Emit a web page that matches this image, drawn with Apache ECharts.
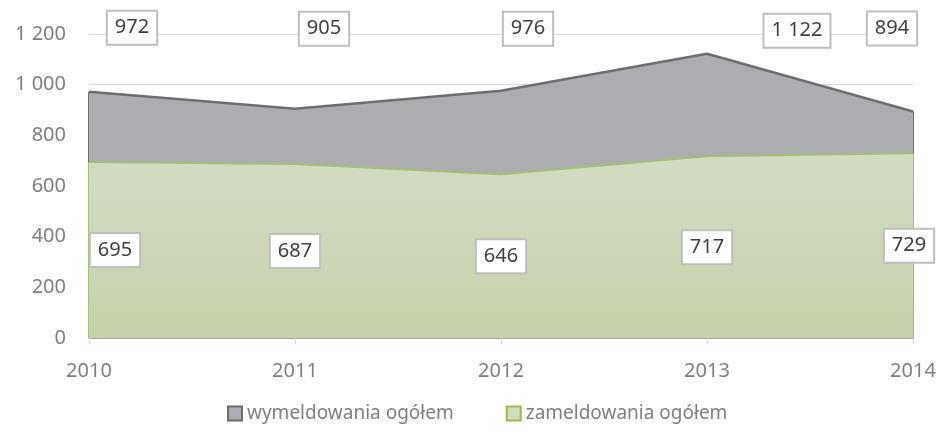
<!DOCTYPE html>
<html>
<head>
<meta charset="utf-8">
<script src="https://cdn.jsdelivr.net/npm/echarts@6/dist/echarts.min.js"></script>
<style>
html,body{margin:0;padding:0;background:#fff;}
#chart{width:940px;height:432px;}
</style>
</head>
<body>
<div id="chart"></div>
<script>
// ---- data ----
const years = ['2010', '2011', '2012', '2013', '2014'];
const wymeldowania = [972, 905, 976, 1122, 894];
const zameldowania = [695, 687, 646, 717, 729];
const seriesNames = ['wymeldowania ogółem', 'zameldowania ogółem'];
const yMin = 0, yMax = 1200, yStep = 200;

// ---- layout (not data) ----
const gridTop = 34, gridBottom = 94, gridLeft = 89, gridRight = 27;
const plotH = 432 - gridTop - gridBottom;
const pxPerUnit = plotH / (yMax - yMin);
const wymLabelOffsets = [[43, -64], [29, -80], [27, -62], [90, -23], [-21, -83]];
const zamLabelDx = [26, 0, 0, 0, -4];

const fmt = n => String(n).replace(/\B(?=(\d{3})+(?!\d))/g, ' ');
const FONT = 'Noto Sans';

const boxLabel = {
  show: true,
  position: 'inside',
  formatter: p => fmt(p.value),
  color: '#404040',
  fontFamily: FONT,
  fontSize: 20,
  backgroundColor: '#ffffff',
  borderColor: '#bfbfbf',
  borderWidth: 2,
  padding: [6, 7, 6, 7]
};

const wymData = wymeldowania.map((v, i) => ({
  value: v,
  label: Object.assign({}, boxLabel, { offset: wymLabelOffsets[i] })
}));
const zamData = zameldowania.map((v, i) => ({
  value: v,
  label: Object.assign({}, boxLabel, { offset: [zamLabelDx[i], v * pxPerUnit / 2] })
}));

function edges(vals, color) {
  const last = vals.length - 1;
  return {
    silent: true, symbol: 'none', label: { show: false },
    lineStyle: { color: color, width: 2, type: 'solid' },
    animation: false,
    z: 1,
    data: [
      [{ coord: [0, 0] }, { coord: [0, vals[0]] }],
      [{ coord: [last, 0] }, { coord: [last, vals[last]] }]
    ]
  };
}

const chart = echarts.init(document.getElementById('chart'));
chart.setOption({
  animation: false,
  backgroundColor: '#ffffff',
  textStyle: { fontFamily: FONT },
  grid: { top: gridTop, bottom: gridBottom, left: gridLeft, right: gridRight },
  legend: {
    left: 222, top: 399,
    itemWidth: 14, itemHeight: 14, itemGap: 52,
    textStyle: { fontFamily: FONT, fontSize: 19, color: '#7f7f7f' },
    data: [
      { name: seriesNames[0], icon: 'rect', itemStyle: { color: '#adadb1', borderColor: '#6d6d72', borderWidth: 2 } },
      { name: seriesNames[1], icon: 'rect', itemStyle: { color: '#d3dcc0', borderColor: '#9bbb59', borderWidth: 2 } }
    ]
  },
  xAxis: {
    type: 'category',
    data: years,
    boundaryGap: false,
    axisLine: { lineStyle: { color: '#a6a6a6', width: 2 } },
    axisTick: { show: true, length: 6, lineStyle: { color: '#d9d9d9' } },
    axisLabel: { color: '#7f7f7f', fontFamily: FONT, fontSize: 20, margin: 23 },
    splitLine: { show: false }
  },
  yAxis: {
    type: 'value',
    min: yMin, max: yMax, interval: yStep,
    axisLine: { show: false },
    axisTick: { show: false },
    axisLabel: { color: '#7f7f7f', fontFamily: FONT, fontSize: 20, margin: 23, formatter: v => fmt(v) },
    splitLine: { lineStyle: { color: '#d9d9d9', width: 1 } }
  },
  series: [
    {
      name: seriesNames[0],
      type: 'line',
      data: wymData,
      symbol: 'circle', symbolSize: 0, showSymbol: true,
      lineStyle: { color: '#6d6d72', width: 2.5 },
      itemStyle: { color: '#6d6d72' },
      areaStyle: { color: '#adadb1', opacity: 1 },
      markLine: edges(wymeldowania, '#6d6d72'),
      z: 2
    },
    {
      name: seriesNames[1],
      type: 'line',
      data: zamData,
      symbol: 'circle', symbolSize: 0, showSymbol: true,
      lineStyle: { color: '#a3bf78', width: 2 },
      itemStyle: { color: '#9bbb59' },
      areaStyle: {
        opacity: 1,
        color: new echarts.graphic.LinearGradient(0, 0, 0, 1, [
          { offset: 0, color: '#d3dbc4' },
          { offset: 1, color: '#c6d0ac' }
        ])
      },
      markLine: edges(zameldowania, '#a3bf78'),
      z: 3
    }
  ]
});
</script>
</body>
</html>
